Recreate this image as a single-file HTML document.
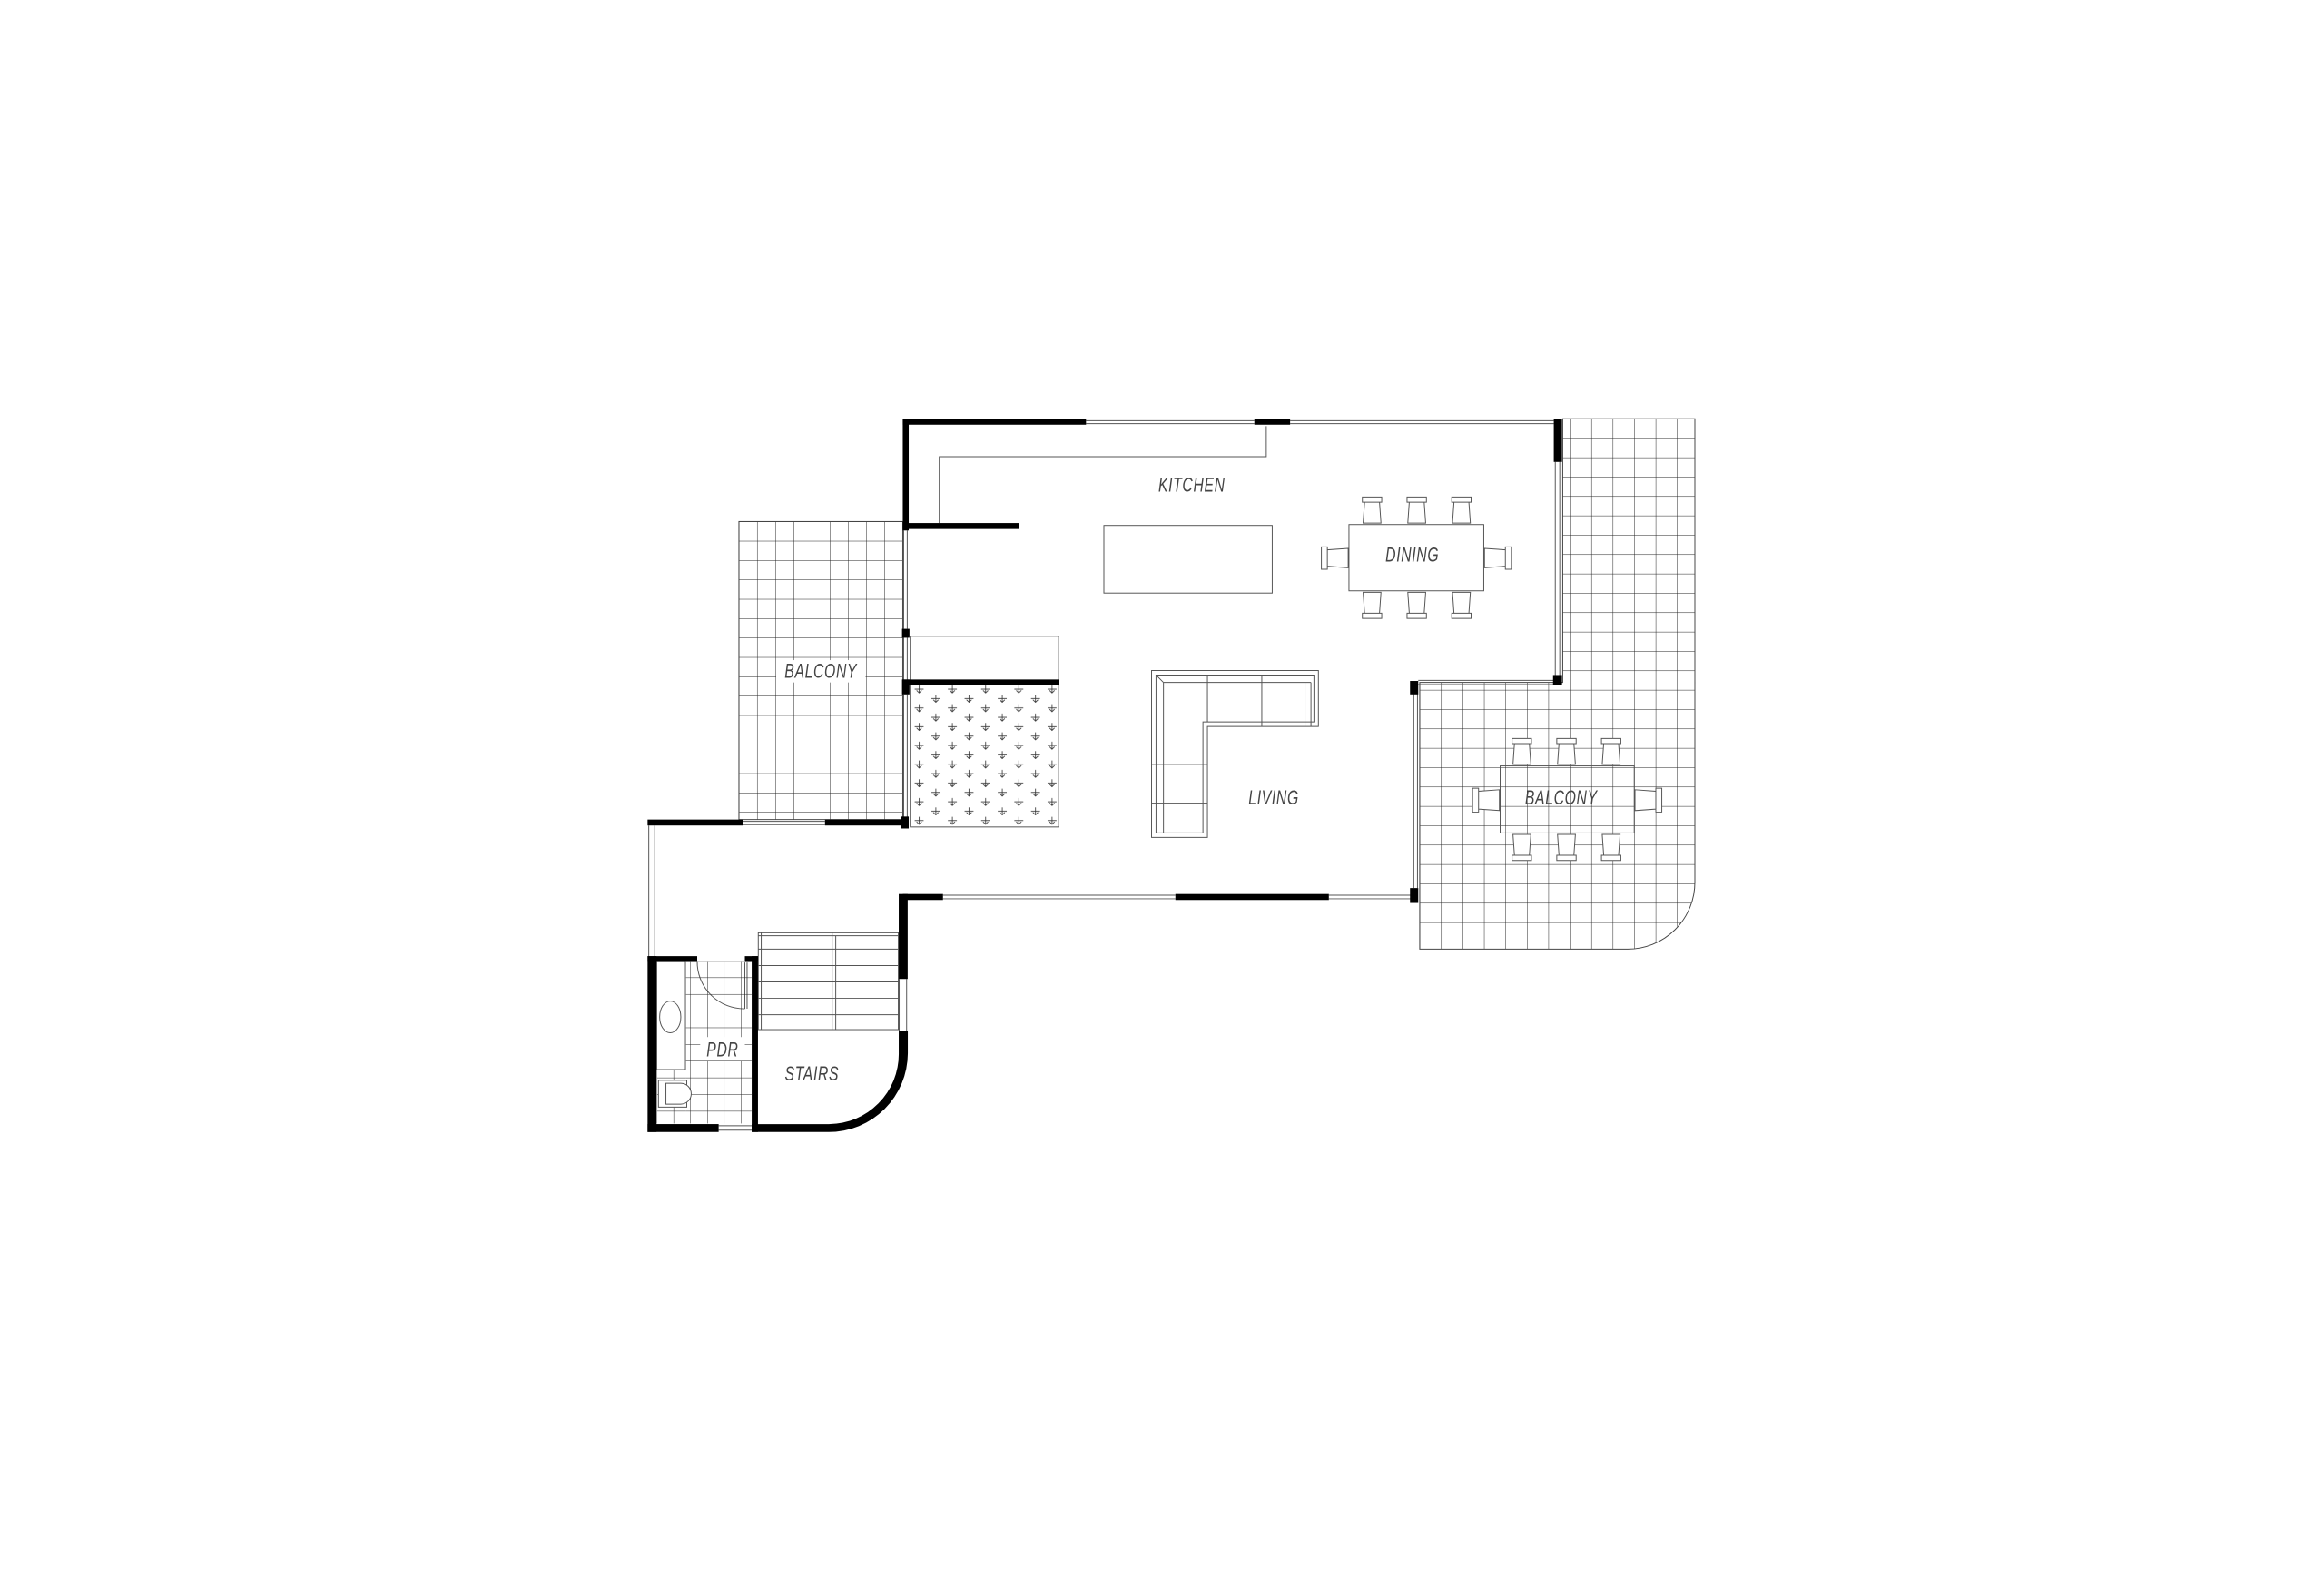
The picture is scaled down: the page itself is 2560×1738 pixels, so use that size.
<!DOCTYPE html>
<html><head><meta charset="utf-8"><style>
html,body{margin:0;padding:0;background:#fff}
svg{display:block}
text{font-family:"Liberation Sans",sans-serif;font-style:italic;fill:#444;font-size:12px;letter-spacing:0.5px}
</style></head><body>
<svg width="2560" height="1738" viewBox="0 0 1560 1059" xmlns="http://www.w3.org/2000/svg">
<defs>
<pattern id="tile" x="496" y="350" width="12.2" height="13" patternUnits="userSpaceOnUse">
<path d="M0 0H12.2M0 0V13" stroke="#222" stroke-width="0.6" fill="none"/>
</pattern>
<pattern id="tile2" x="953" y="281" width="14.4" height="13" patternUnits="userSpaceOnUse">
<path d="M0 0H14.4M0 0V13" stroke="#222" stroke-width="0.6" fill="none"/>
</pattern>
<pattern id="tile3" x="440.8" y="644.8" width="11.3" height="11.2" patternUnits="userSpaceOnUse">
<path d="M0 0H11.3M0 0V11.2" stroke="#222" stroke-width="0.6" fill="none"/>
</pattern>
<pattern id="hatch" x="611" y="459" width="22.3" height="12.6" patternUnits="userSpaceOnUse">
<g stroke="#333" stroke-width="0.5" fill="none">
<path d="M3 3.5H9M6 1V6M4.3 4.3L6 6L7.7 4.3"/>
<path d="M14.2 9.8H20.2M17.2 7.3V12.3M15.5 10.6L17.2 12.3L18.9 10.6"/>
</g>
</pattern>
</defs>

<rect x="496" y="350" width="110" height="200" fill="url(#tile)"/>
<path d="M953 458H1049V281H1137.7V592A45 45 0 0 1 1092.7 637H953Z" fill="url(#tile2)" stroke="#444" stroke-width="0.6"/>
<rect x="496" y="350" width="110" height="200" fill="none" stroke="#444" stroke-width="0.6"/>

<g stroke="#555" stroke-width="0.6" fill="none">
<path d="M729 282.3H842M729 284.3H842M866 282.3H1043M866 284.3H1043"/>
<path d="M1044 310V454M1047 310V454"/>
<path d="M952 456.6H1044M952 459.4H1044"/>
<path d="M949 465V596M951.5 465V596"/>
<path d="M633 600.8H789M633 603.2H789M892 600.8H947M892 603.2H947"/>
<path d="M606.6 356V422M609 356V422M606.6 428V457M609 428V457M606.6 466V550M609 466V550"/>
<path d="M498.6 551.2H553.8M498.6 553.4H553.8"/>
<path d="M435.5 554V642M439.5 554V642"/>
<path d="M603.6 657V692M608.6 657V692"/>
<path d="M482.4 755.5H505M482.4 758.5H505"/>
<path d="M630.5 351V306.5H850V286"/>
<rect x="741" y="352.6" width="113" height="45.4"/>
<rect x="611" y="427" width="99.6" height="29.6"/>
<rect x="611" y="459" width="99.6" height="96"/>
<path d="M773 450H885V487.5H810.5V562H773Z"/>
<path d="M776 453H882V484.5H807.5V559H776Z"/>
<path d="M776 453L781 458H880M781 458V559M810.5 453V484.5M847 453V487.5M876 458V487.5M880 458V487.5M773 513H810.5M773 539H810.5"/>
<rect x="905.5" y="352" width="90.5" height="44.5"/>
<rect x="1007" y="514" width="90" height="45"/>
<rect x="509" y="626" width="94" height="65"/>
<path d="M511 626V691M509 637H603M509 648H603M509 659H603M509 670H603M509 681H603M558.6 626V691M561 628V691M509 628H603"/>
<rect x="440.8" y="644.8" width="19.3" height="73"/>
<ellipse cx="449.9" cy="682.5" rx="7.1" ry="10.6"/>
<path d="M468 645A31.5 31.5 0 0 0 500 677M500 646V677M501.5 646V677"/>
</g>
<rect x="460.5" y="645" width="44" height="109" fill="url(#tile3)"/>
<rect x="441" y="718" width="19.5" height="36" fill="url(#tile3)"/>
<rect x="442" y="725" width="19" height="18" fill="#fff" stroke="#555" stroke-width="0.6"/>
<path d="M447 727H457A7 7 0 0 1 457 741H447Z" fill="#fff" stroke="#555" stroke-width="0.6"/>
<rect x="612" y="460" width="97.6" height="94" fill="url(#hatch)"/>

<g fill="#fff" stroke="#555" stroke-width="0.6">
<path d="M915 351L916 337H926L927 351Z M914.5 333.5H927.5V337H914.5Z"/>
<path d="M945 351L946 337H956L957 351Z M944.5 333.5H957.5V337H944.5Z"/>
<path d="M975 351L976 337H986L987 351Z M974.5 333.5H987.5V337H974.5Z"/>
<path d="M915 397.5L916 411.5H926L927 397.5Z M914.5 411.5H927.5V415H914.5Z"/>
<path d="M945 397.5L946 411.5H956L957 397.5Z M944.5 411.5H957.5V415H944.5Z"/>
<path d="M975 397.5L976 411.5H986L987 397.5Z M974.5 411.5H987.5V415H974.5Z"/>
<path d="M905 368L891 369V380L905 381Z M887 367H891V382H887Z"/>
<path d="M996.5 368L1010.5 369V380L996.5 381Z M1010.5 367H1014.5V382H1010.5Z"/>
<path d="M1015.6 513L1016.6 499H1026.6L1027.6 513Z M1015 495.6H1028V499H1015Z"/>
<path d="M1045.5 513L1046.5 499H1056.5L1057.5 513Z M1045 495.6H1058V499H1045Z"/>
<path d="M1075.5 513L1076.5 499H1086.5L1087.5 513Z M1075 495.6H1088V499H1075Z"/>
<path d="M1015.6 560L1016.6 574H1026.6L1027.6 560Z M1015 574H1028V577.5H1015Z"/>
<path d="M1045.5 560L1046.5 574H1056.5L1057.5 560Z M1045 574H1058V577.5H1045Z"/>
<path d="M1075.5 560L1076.5 574H1086.5L1087.5 560Z M1075 574H1088V577.5H1075Z"/>
<path d="M1006.5 530L992.5 531V543L1006.5 544Z M988.5 529H992.5V545H988.5Z"/>
<path d="M1097.5 530L1111.5 531V543L1097.5 544Z M1111.5 529H1115.5V545H1111.5Z"/>
</g>

<g fill="#000">
<rect x="606" y="281" width="123" height="4"/>
<rect x="842" y="281" width="24" height="4"/>
<rect x="1043" y="281" width="5.5" height="29"/>
<rect x="1042.5" y="453" width="6" height="7"/>
<rect x="946.5" y="457" width="5.5" height="9"/>
<rect x="946.5" y="596" width="5.5" height="10"/>
<rect x="606" y="600" width="27" height="4"/>
<rect x="789" y="600" width="103" height="4"/>
<rect x="606" y="281" width="4" height="75"/>
<rect x="606" y="351" width="78" height="4"/>
<rect x="605.5" y="422" width="5" height="6"/>
<rect x="605.5" y="456" width="5" height="10"/>
<rect x="606" y="456" width="104.6" height="4"/>
<rect x="434.7" y="550" width="63.9" height="4"/>
<rect x="553.8" y="550" width="56" height="4"/>
<rect x="605" y="548" width="5" height="8"/>
<rect x="434.7" y="641.7" width="6" height="118"/>
<rect x="434.7" y="641.7" width="33.3" height="3.2"/>
<rect x="500" y="641.7" width="8.8" height="3.2"/>
<rect x="504.6" y="641.7" width="4.2" height="118"/>
<rect x="434.7" y="754.4" width="47.7" height="5.3"/>
<rect x="603.3" y="600" width="6" height="57"/>
<path d="M603.3 692H609.4V707A53 53 0 0 1 556.4 759.7H504.6V754.4H556.4A47 47 0 0 0 603.3 707Z"/>
</g>

<rect x="521" y="443" width="60" height="15" fill="#fff"/>
<rect x="470" y="696" width="30" height="16" fill="#fff"/>
<g transform="translate(800,330) scale(0.8,1.15)"><text text-anchor="middle">KITCHEN</text></g>
<g transform="translate(948,377) scale(0.8,1.15)"><text text-anchor="middle">DINING</text></g>
<g transform="translate(551,455) scale(0.8,1.15)"><text text-anchor="middle">BALCONY</text></g>
<g transform="translate(855,540) scale(0.8,1.15)"><text text-anchor="middle">LIVING</text></g>
<g transform="translate(1048,540) scale(0.8,1.15)"><text text-anchor="middle">BALCONY</text></g>
<g transform="translate(485,709) scale(0.8,1.15)"><text text-anchor="middle">PDR</text></g>
<g transform="translate(545,725) scale(0.8,1.15)"><text text-anchor="middle">STAIRS</text></g>
</svg>
</body></html>
